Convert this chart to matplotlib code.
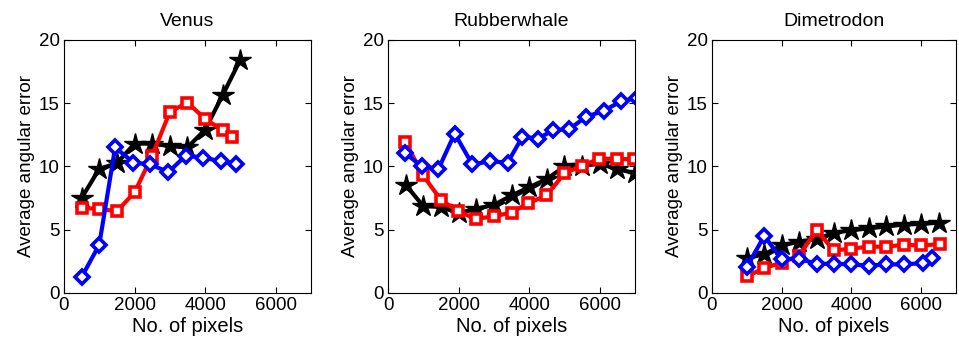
import matplotlib
matplotlib.use("Agg")
import matplotlib.pyplot as plt

plt.rcParams['font.family'] = ['Liberation Sans', 'DejaVu Sans']

titles = ["Venus", "Rubberwhale", "Dimetrodon"]

# Venus
venus_star_x = [500, 1000, 1500, 2000, 2500, 3000, 3500, 4000, 4500, 5000]
venus_star_y = [7.5, 9.8, 10.25, 11.8, 11.8, 11.6, 11.5, 12.9, 15.65, 18.45]
venus_sq_x = [500, 1000, 1500, 2000, 2500, 3000, 3500, 4000, 4500, 4770]
venus_sq_y = [6.7, 6.65, 6.45, 7.95, 10.85, 14.3, 15.05, 13.75, 12.85, 12.3]
venus_dia_x = [500, 1000, 1450, 1970, 2450, 2960, 3450, 3950, 4440, 4870]
venus_dia_y = [1.25, 3.8, 11.5, 10.3, 10.15, 9.55, 10.85, 10.7, 10.4, 10.2]

# Rubberwhale
rw_star_x = [500, 1000, 1500, 2000, 2500, 3000, 3500, 4000, 4500, 5000, 5500, 6000, 6500, 7000]
rw_star_y = [8.55, 6.85, 6.8, 6.3, 6.65, 6.95, 7.7, 8.35, 9.0, 10.0, 10.05, 10.2, 9.8, 9.45]
rw_sq_x = [490, 990, 1500, 1990, 2490, 3000, 3500, 3980, 4490, 5000, 5490, 5990, 6480, 6980]
rw_sq_y = [11.95, 9.3, 7.35, 6.45, 5.85, 6.05, 6.35, 7.1, 7.7, 9.45, 10.05, 10.6, 10.6, 10.55]
rw_dia_x = [480, 965, 1430, 1890, 2390, 2885, 3390, 3810, 4250, 4680, 5140, 5600, 6110, 6610, 7060]
rw_dia_y = [11.05, 10.0, 9.8, 12.6, 10.15, 10.4, 10.3, 12.35, 12.2, 12.85, 12.95, 13.9, 14.4, 15.15, 15.4]

# Dimetrodon
dm_star_x = [1000, 1500, 2000, 2500, 3000, 3500, 4000, 4500, 5000, 5500, 6000, 6500]
dm_star_y = [2.75, 3.05, 3.75, 4.05, 4.25, 4.75, 4.95, 5.1, 5.25, 5.4, 5.45, 5.55]
dm_sq_x = [1000, 1500, 2000, 2500, 3000, 3500, 4000, 4500, 5000, 5500, 6000, 6550]
dm_sq_y = [1.3, 1.95, 2.4, 2.95, 4.95, 3.35, 3.5, 3.65, 3.65, 3.8, 3.75, 3.85]
dm_dia_x = [1000, 1500, 2000, 2500, 3000, 3500, 4000, 4500, 5000, 5500, 6050, 6300]
dm_dia_y = [2.05, 4.5, 2.65, 2.7, 2.3, 2.3, 2.25, 2.15, 2.25, 2.25, 2.35, 2.75]

panels = [
    (venus_star_x, venus_star_y, venus_sq_x, venus_sq_y, venus_dia_x, venus_dia_y),
    (rw_star_x, rw_star_y, rw_sq_x, rw_sq_y, rw_dia_x, rw_dia_y),
    (dm_star_x, dm_star_y, dm_sq_x, dm_sq_y, dm_dia_x, dm_dia_y),
]

lefts = [0.0667, 0.4046, 0.7424]
widths = [0.2576, 0.2576, 0.2544]

fig = plt.figure(figsize=(9.59, 3.47), dpi=100)
for i in range(3):
    ax = fig.add_axes([lefts[i], 0.156, widths[i], 0.729])
    sx, sy, qx, qy, dx, dy = panels[i]
    ax.plot(sx, sy, color='black', lw=3, marker='*', ms=16, mfc='black', mec='black')
    ax.plot(qx, qy, color='red', lw=3, marker='s', ms=7, mfc='white', mec='red', mew=2.6)
    ax.plot(dx, dy, color='blue', lw=3, marker='D', ms=7, mfc='white', mec='blue', mew=2.6)
    ax.set_xlim(0, 7000)
    ax.set_ylim(0, 20)
    ax.set_xticks([0, 2000, 4000, 6000])
    ax.set_yticks([0, 5, 10, 15, 20])
    ax.tick_params(direction='in', top=True, right=True, labelsize=13.5, length=4, pad=3)
    ax.set_title(titles[i], fontsize=14, pad=10)
    ax.set_xlabel("No. of pixels", fontsize=14.5, labelpad=2)
    ax.set_ylabel("Average angular error", fontsize=13.5, labelpad=3)

fig.savefig("out.png", dpi=100)
